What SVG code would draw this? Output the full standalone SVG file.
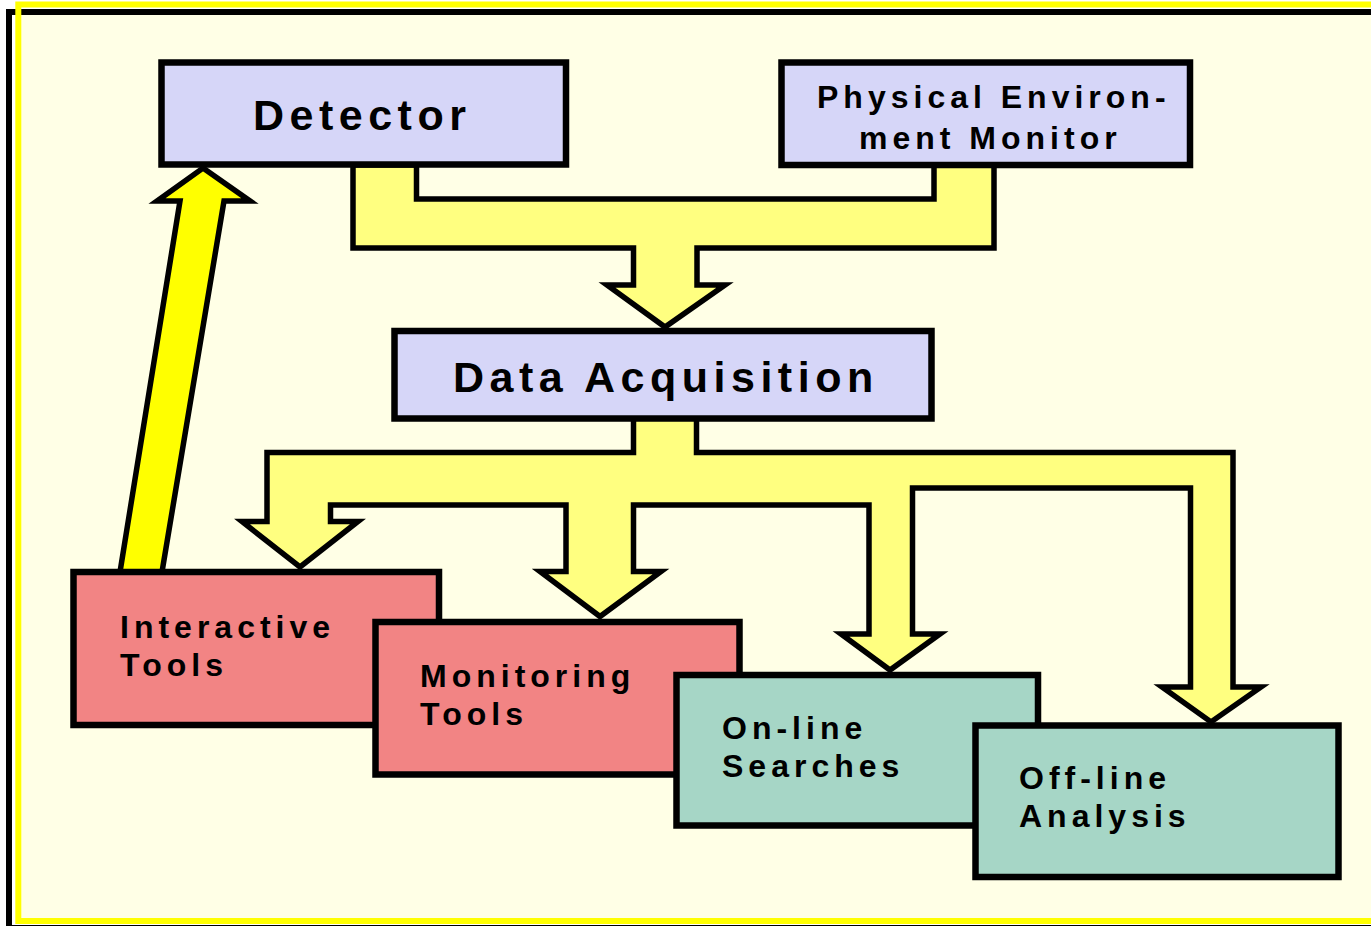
<svg xmlns="http://www.w3.org/2000/svg" width="1371" height="926" viewBox="0 0 1371 926">
  <style>
    .frame { fill: none; stroke-width: 6; }
    .box { stroke: #000; stroke-width: 6.5; }
    .blue { fill: #d6d6f8; }
    .red { fill: #f28484; }
    .green { fill: #a6d6c6; }
    .flow { fill: #ffff80; stroke: #000; stroke-width: 5.5; stroke-linejoin: miter; }
    .feedback { fill: #ffff00; stroke: #000; stroke-width: 5.5; stroke-linejoin: miter; }
    .lbl { font-family: "Liberation Sans", Arial, sans-serif; font-weight: bold; fill: #000; }
    .big { font-size: 43px; letter-spacing: 5.5px; }
    .mid { font-size: 32px; letter-spacing: 5px; }
  </style>

  <!-- page and double frame -->
  <rect x="0" y="0" width="1371" height="926" fill="#ffffff"/>
  <rect x="21" y="15" width="1360" height="903" fill="#ffffe6"/>
  <rect class="frame" x="9" y="12" width="1380" height="916" stroke="#000"/>
  <rect class="frame" x="18.3" y="4.5" width="1380" height="916.5" stroke="#ffff00"/>

  <g id="connectors">
    <!-- Detector + environment monitor merge into data acquisition -->
    <path class="flow" d="M353,165 V248 H633.5 V285 H607 L665,327 L725,285 H697 V248 H994 V165 H934 V199 H416.5 V165 Z"/>
    <!-- data acquisition fans out to the four consumers -->
    <path class="flow" d="M633.5,418 V452.5 H267 V521.5 H242 L300,567 L358,521.5 H330.5 V505 H566 V571.5 H540 L600,616.5 L661,571.5 H633.5 V505 H869 V634 H841 L890,670 L940,634 H912.5 V488 H1190.5 V687 H1162 L1211,722 L1261,687 H1233 V452.5 H696.5 V418 Z"/>
    <!-- feedback from interactive tools to the detector -->
    <path class="feedback" d="M203,168 L250,201 H224 L162,572 H120 L180,201 H157 Z"/>
  </g>

  <g id="detector">
    <rect class="box blue" x="161.5" y="62.5" width="404.5" height="102"/>
    <text class="lbl big" x="253" y="130">Detector</text>
  </g>

  <g id="environment-monitor">
    <rect class="box blue" x="781.5" y="62.5" width="408.5" height="102.5"/>
    <text class="lbl mid" x="817" y="108">Physical Environ-</text>
    <text class="lbl mid" x="859" y="149">ment Monitor</text>
  </g>

  <g id="data-acquisition">
    <rect class="box blue" x="394.5" y="331" width="537" height="87.5"/>
    <text class="lbl big" x="453" y="392">Data Acquisition</text>
  </g>

  <g id="interactive-tools">
    <rect class="box red" x="73.5" y="572" width="365.5" height="153"/>
    <text class="lbl mid" x="120" y="637.5">Interactive</text>
    <text class="lbl mid" x="120" y="675.5">Tools</text>
  </g>

  <g id="monitoring-tools">
    <rect class="box red" x="375.5" y="622" width="364" height="152.5"/>
    <text class="lbl mid" x="420" y="687">Monitoring</text>
    <text class="lbl mid" x="420" y="725">Tools</text>
  </g>

  <g id="online-searches">
    <rect class="box green" x="676.5" y="675" width="361.5" height="150.5"/>
    <text class="lbl mid" x="722" y="739">On-line</text>
    <text class="lbl mid" x="722" y="777">Searches</text>
  </g>

  <g id="offline-analysis">
    <rect class="box green" x="975.5" y="725.5" width="363" height="151.5"/>
    <text class="lbl mid" x="1019" y="789">Off-line</text>
    <text class="lbl mid" x="1019" y="827">Analysis</text>
  </g>
</svg>
